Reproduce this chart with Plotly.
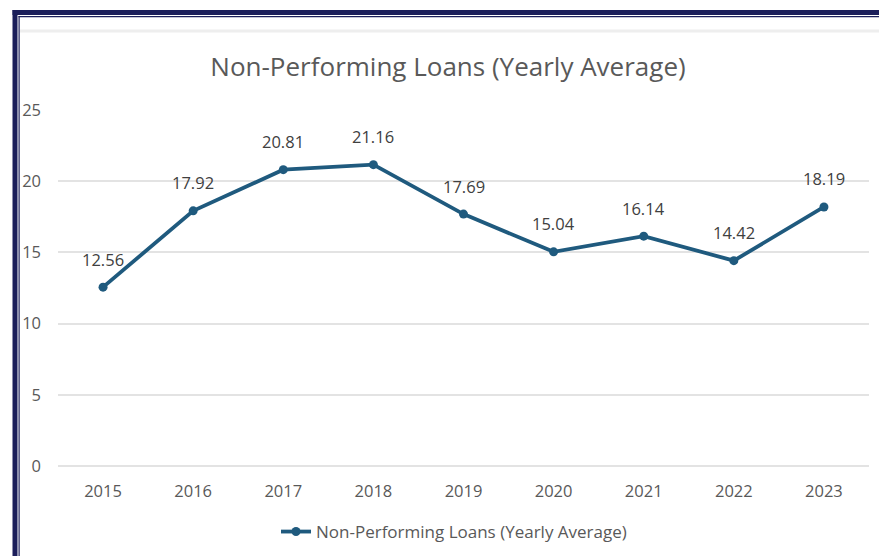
import plotly.graph_objects as go

years = ["2015", "2016", "2017", "2018", "2019", "2020", "2021", "2022", "2023"]
npl = [12.56, 17.92, 20.81, 21.16, 17.69, 15.04, 16.14, 14.42, 18.19]
labels = ["12.56", "17.92", "20.81", "21.16", "17.69", "15.04", "16.14", "14.42", "18.19"]
y_ticks = [0, 5, 10, 15, 20, 25]

# the page body adds an 8px offset; lay out in screen pixels and compensate
O = 8
SW, SH = 887, 556
W, H = SW - O, SH - O
L, R, T, B = 58 - O, 18, 110 - O, 90
PW, PH = W - L - R, H - T - B


def px(x):  # screen x -> paper
    return (x - O - L) / PW


def py(y):  # screen y -> paper
    return (H - B - (y - O)) / PH


def cy(y):  # screen y -> container
    return 1 - (y - O) / H


LINE = "#1F5A7E"
TXT = "#595959"
NAVY = "#1B1E5A"
FONT = "Open Sans"

fig = go.Figure()
fig.add_trace(go.Scatter(
    x=years, y=npl, mode="lines+markers",
    name="Non-Performing Loans (Yearly Average)",
    line=dict(color=LINE, width=3.8),
    marker=dict(color=LINE, size=9),
))

for i, (y, t) in enumerate(zip(npl, labels)):
    fig.add_annotation(x=i, y=y, xref="x", yref="y", text=t, showarrow=False, yshift=28,
                       font=dict(family=FONT, size=16.5, color="#404040"))

shapes = [
    # outer navy frame
    dict(type="rect", xref="paper", yref="paper", x0=px(12.5), x1=px(17.5), y0=py(10), y1=py(SH + 5),
         fillcolor=NAVY, line=dict(width=0), layer="above"),
    dict(type="rect", xref="paper", yref="paper", x0=px(12.5), x1=px(SW + 5), y0=py(10), y1=py(15),
         fillcolor=NAVY, line=dict(width=0), layer="above"),
    # inner thin line
    dict(type="rect", xref="paper", yref="paper", x0=px(18.5), x1=px(19.7), y0=py(16), y1=py(SH + 5),
         fillcolor=NAVY, line=dict(width=0), layer="above"),
    dict(type="rect", xref="paper", yref="paper", x0=px(18.5), x1=px(SW + 5), y0=py(16), y1=py(17.2),
         fillcolor=NAVY, line=dict(width=0), layer="above"),
    # faint band
    dict(type="line", xref="paper", yref="paper", x0=px(20), x1=px(SW), y0=py(31), y1=py(31),
         line=dict(color="#EEEEEE", width=3), layer="below"),
]

fig.update_layout(
    width=W, height=H,
    margin=dict(l=L, r=R, t=T, b=B, autoexpand=False),
    paper_bgcolor="white", plot_bgcolor="white",
    font=dict(family=FONT, color=TXT),
    title=dict(text="Non-Performing Loans (Yearly Average)", x=(448 - O) / W, xanchor="center",
               y=1 - (67 - O) / H, yanchor="middle",
               font=dict(family=FONT, size=26, color=TXT)),
    showlegend=True,
    legend=dict(orientation="h", xref="container", yref="container",
                x=(454 - O) / W, xanchor="center", y=cy(532), yanchor="middle",
                font=dict(family=FONT, size=17, color=TXT), bgcolor="rgba(0,0,0,0)"),
    shapes=shapes,
)
fig.update_xaxes(type="category", range=[-0.5, 8.5], showgrid=False, showline=False, zeroline=False,
                 automargin=False,
                 tickfont=dict(family=FONT, size=16.5, color=TXT), ticks="", ticklabelstandoff=13)
fig.update_yaxes(range=[0, 25], tickvals=y_ticks, showgrid=True, gridcolor="#E3E3E3", gridwidth=1.5,
                 zeroline=True, zerolinecolor="#E3E3E3", zerolinewidth=1.5, showline=False,
                 automargin=False,
                 tickfont=dict(family=FONT, size=16.5, color=TXT), ticks="", ticklabelstandoff=16)

fig.write_html("out.html")
